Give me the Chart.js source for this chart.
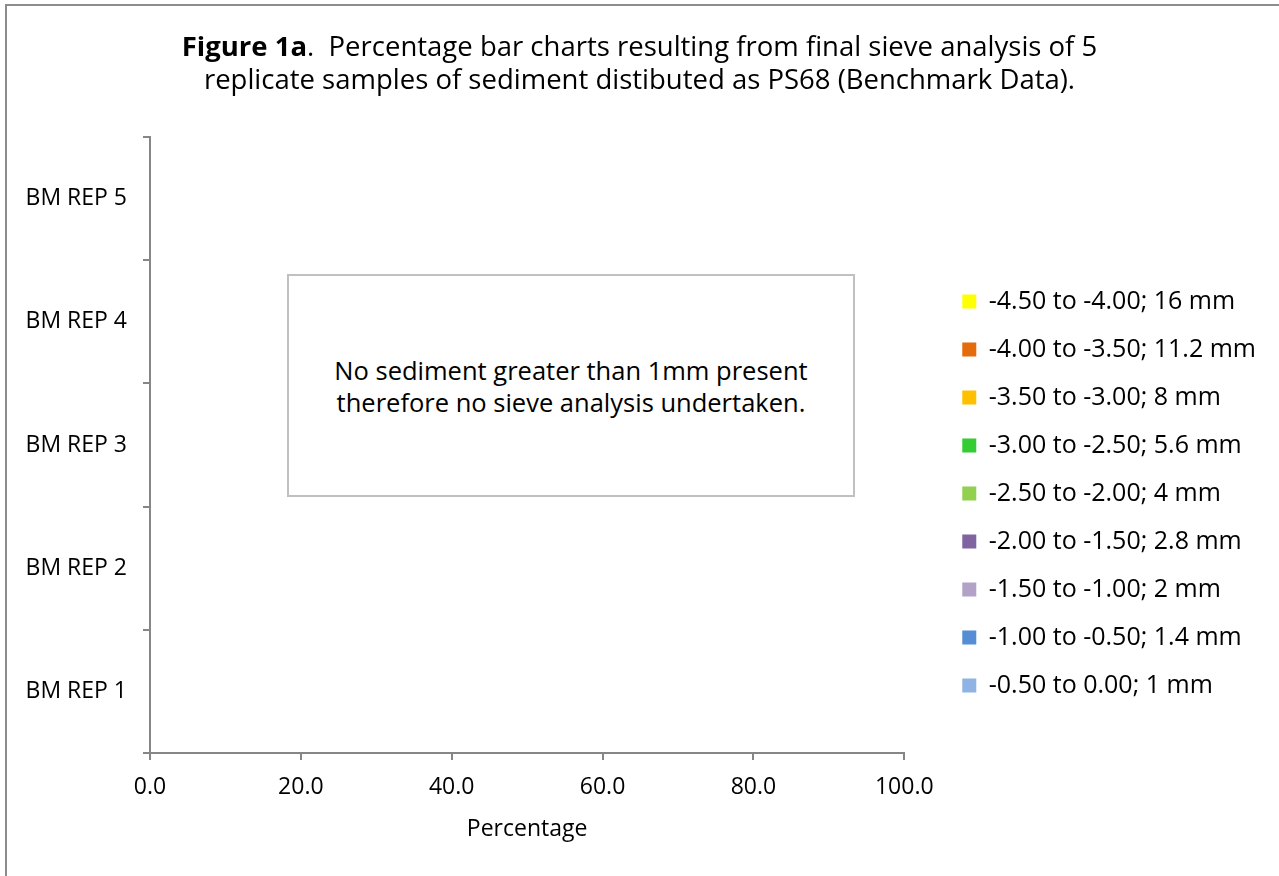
<!DOCTYPE html>
<html>
<head>
<meta charset="utf-8">
<title>Figure 1a</title>
<script src="https://cdn.jsdelivr.net/npm/chart.js@4.4.0/dist/chart.umd.min.js"></script>
<style>
  html, body { margin: 0; padding: 0; background: #fff; }
  body { width: 1279px; height: 876px; position: relative; overflow: hidden; font-family: 'Open Sans', sans-serif; color: #000; }
  #frame { position: absolute; left: 5px; top: 4px; width: 1400px; height: 1000px; border-top: 2px solid #8c8c8c; border-left: 2px solid #8c8c8c; }
  #wrap { position: absolute; left: 0; top: 0; width: 1279px; height: 876px; }
  #title { position: absolute; left: 0; top: 29px; width: 1279px; text-align: center; font-size: 27.5px; line-height: 33px; }
  #note { position: absolute; left: 287px; top: 274px; width: 568px; height: 223px; box-sizing: border-box;
          border: 2px solid #c0c0c0; display: flex; align-items: center; justify-content: center;
          text-align: center; font-size: 25.5px; line-height: 32px; background: #fff; }
</style>
</head>
<body>
<div id="frame"></div>
<div id="wrap"><canvas id="chart" width="1279" height="876"></canvas></div>
<div id="title"><b>Figure 1a</b>.&nbsp; Percentage bar charts resulting from final sieve analysis of 5<br>replicate samples of sediment distibuted as PS68 (Benchmark Data).</div>
<div id="note">No sediment greater than 1mm present<br>therefore no sieve analysis undertaken.</div>
<script>
// replicate samples, bottom to top on the chart
const samples = ['BM REP 1', 'BM REP 2', 'BM REP 3', 'BM REP 4', 'BM REP 5'];

// sieve fractions (phi range; mesh size), legend order
const fractions = [
  '-4.50 to -4.00; 16 mm',
  '-4.00 to -3.50; 11.2 mm',
  '-3.50 to -3.00; 8 mm',
  '-3.00 to -2.50; 5.6 mm',
  '-2.50 to -2.00; 4 mm',
  '-2.00 to -1.50; 2.8 mm',
  '-1.50 to -1.00; 2 mm',
  '-1.00 to -0.50; 1.4 mm',
  '-0.50 to 0.00; 1 mm'
];
const fractionColours = ['#ffff00', '#e46c0a', '#ffc000', '#33cc33', '#92d050', '#8064a2', '#b3a2c7', '#558ed5', '#8eb4e3'];

// percentage retained per fraction, REP 1..5 (nothing above 1mm)
const pct16 = [0, 0, 0, 0, 0];
const pct11_2 = [0, 0, 0, 0, 0];
const pct8 = [0, 0, 0, 0, 0];
const pct5_6 = [0, 0, 0, 0, 0];
const pct4 = [0, 0, 0, 0, 0];
const pct2_8 = [0, 0, 0, 0, 0];
const pct2 = [0, 0, 0, 0, 0];
const pct1_4 = [0, 0, 0, 0, 0];
const pct1 = [0, 0, 0, 0, 0];
const fractionValues = [pct16, pct11_2, pct8, pct5_6, pct4, pct2_8, pct2, pct1_4, pct1];

const percentTicks = [0, 20, 40, 60, 80, 100];

const axisColour = '#868686';
const baseFont = { family: "'Open Sans', sans-serif", size: 23 };

new Chart(document.getElementById('chart'), {
  type: 'bar',
  data: {
    labels: samples,
    datasets: fractions.map((f, i) => ({
      label: f,
      data: fractionValues[i],
      backgroundColor: fractionColours[i],
      borderWidth: 0
    }))
  },
  options: {
    responsive: false,
    animation: false,
    indexAxis: 'y',
    layout: { padding: { top: 137, left: 20, right: 13, bottom: 26 } },
    plugins: {
      title: { display: false },
      tooltip: { enabled: false },
      legend: {
        position: 'right',
        maxWidth: 400,
        labels: {
          boxWidth: 14,
          boxHeight: 14,
          padding: 23,
          color: '#000',
          font: { family: "'Open Sans', sans-serif", size: 25 }
        }
      }
    },
    scales: {
      x: {
        stacked: true,
        min: 0,
        max: 100,
        afterBuildTicks: s => { s.ticks = percentTicks.map(v => ({ value: v })); },
        afterFit: s => { s.height = 97; },
        ticks: {
          color: '#000',
          font: baseFont,
          padding: 14,
          maxRotation: 0,
          callback: v => Number(v).toFixed(1)
        },
        grid: { drawOnChartArea: false, color: axisColour, lineWidth: 2, tickLength: 7 },
        border: { color: axisColour, width: 2 },
        title: { display: true, text: 'Percentage', color: '#000', font: baseFont, padding: { top: 4, bottom: 7 } }
      },
      y: {
        stacked: true,
        reverse: true,
        afterFit: s => { s.width = 130; },
        ticks: { color: '#000', font: baseFont, padding: 16 },
        grid: { drawOnChartArea: false, offset: true, color: axisColour, lineWidth: 2, tickLength: 7 },
        border: { color: axisColour, width: 2 }
      },
      gap: {
        type: 'linear',
        position: 'right',
        afterFit: s => { s.width = 35; },
        ticks: { display: false },
        grid: { display: false },
        border: { display: false }
      }
    }
  }
});
</script>
</body>
</html>
